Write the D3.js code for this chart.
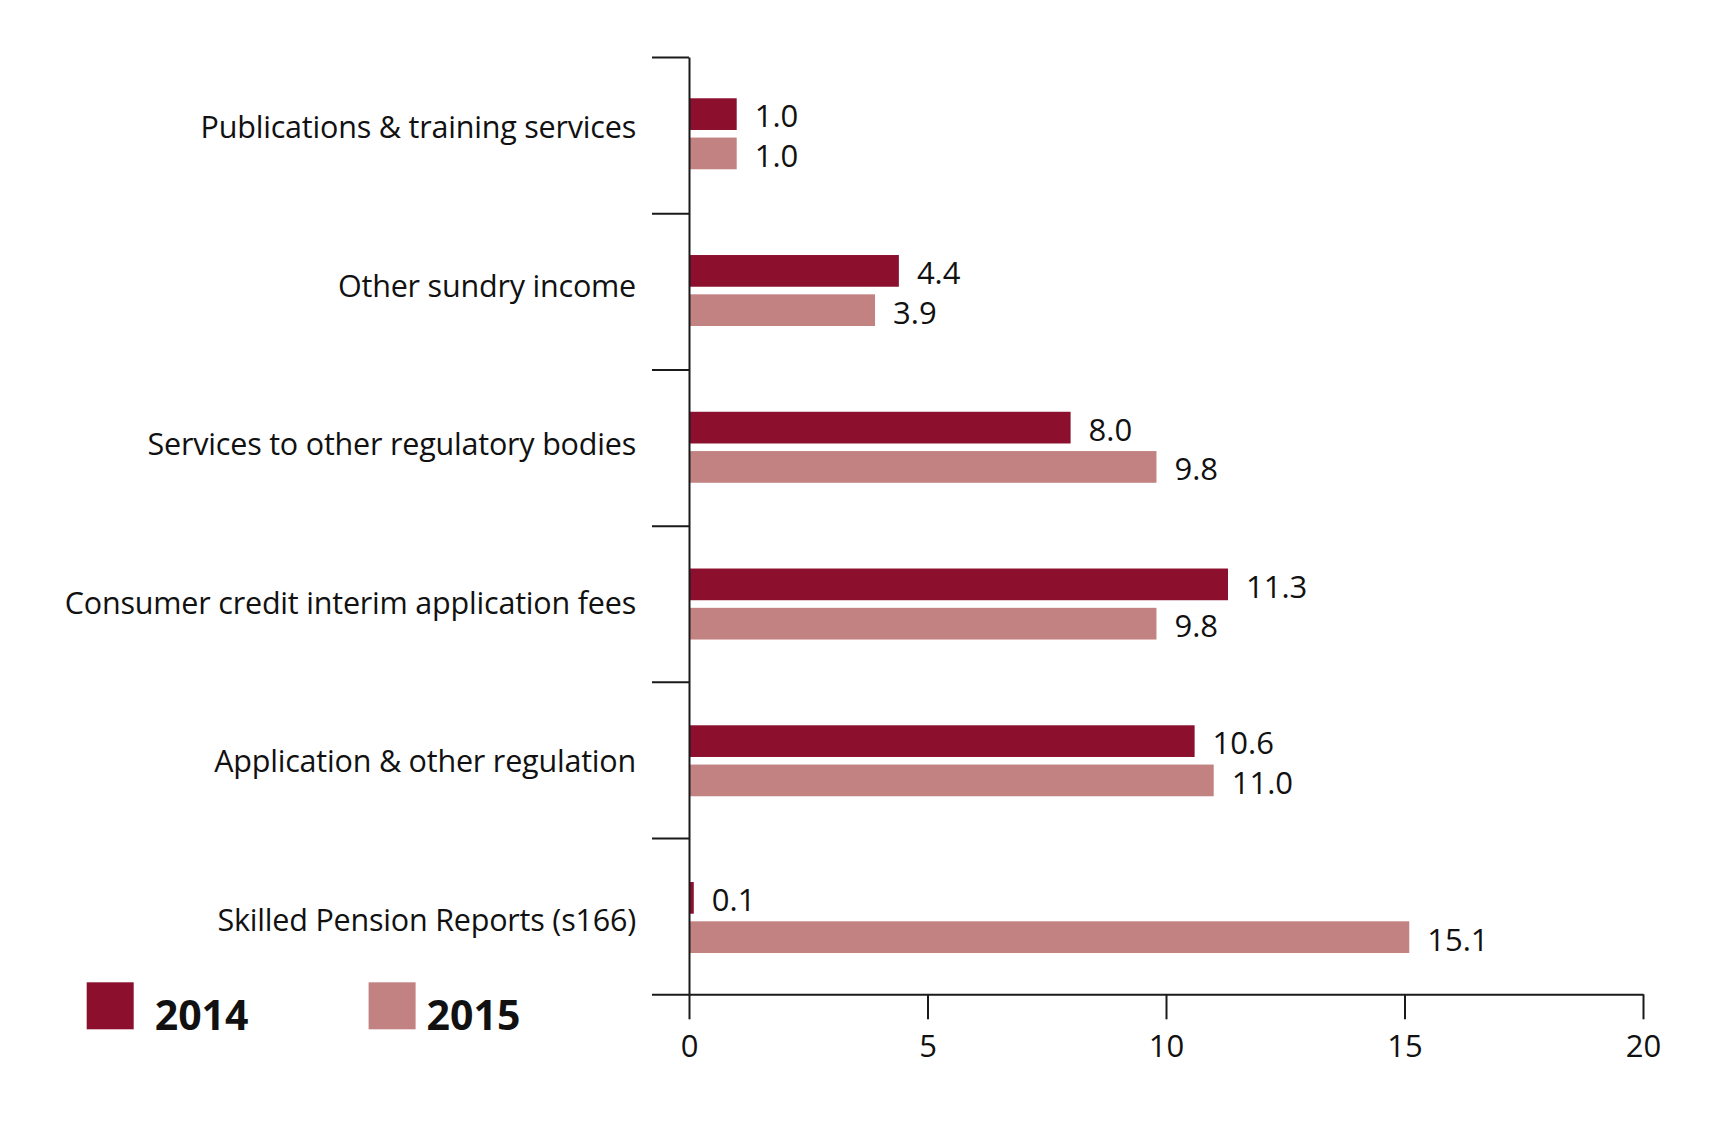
<!DOCTYPE html>
<html>
<head>
<meta charset="utf-8">
<script src="https://cdn.jsdelivr.net/npm/d3@7"></script>
<style>
  body { margin: 0; background: #fff; }
  text { font-family: "Open Sans", "Noto Sans", sans-serif; fill: #111; }
</style>
</head>
<body>
<svg id="chart" width="1719" height="1142"></svg>
<script>
// data, top to bottom
const categories = [
  "Publications & training services",
  "Other sundry income",
  "Services to other regulatory bodies",
  "Consumer credit interim application fees",
  "Application & other regulation",
  "Skilled Pension Reports (s166)"
];
const years = ["2014", "2015"];
const values2014 = [1.0, 4.4, 8.0, 11.3, 10.6, 0.1];
const values2015 = [1.0, 3.9, 9.8, 9.8, 11.0, 15.1];
const xTicks = [0, 5, 10, 15, 20];

const colors = {"2014": "#8c102e", "2015": "#c28282"};

const svg = d3.select("#chart");

const plotLeft = 689, plotRight = 1643, plotTop = 57, plotBottom = 994.3;

const x = d3.scaleLinear().domain([0, 20]).range([plotLeft, plotRight]);
// bar groups
const y0 = d3.scaleBand().domain(categories).range([55.4, 995.9]);
const groupH = 71;
const y1 = d3.scaleBand().domain(years).range([0, groupH]).paddingInner(0.193);
const groupOffset = (y0.bandwidth() - groupH) / 2;
// label baselines (spaced a bit wider than the bars in the original)
const yLabel = d3.scalePoint().domain(categories).range([138.3, 930.6]);

const rows = categories.map((c, i) => ({
  cat: c,
  bars: [
    {year: "2014", value: values2014[i]},
    {year: "2015", value: values2015[i]}
  ]
}));

// bars
const grp = svg.append("g").selectAll("g")
  .data(rows).join("g")
  .attr("transform", d => `translate(0,${y0(d.cat) + groupOffset})`);

grp.selectAll("rect")
  .data(d => d.bars).join("rect")
  .attr("x", x(0))
  .attr("y", d => y1(d.year))
  .attr("width", d => x(d.value) - x(0))
  .attr("height", y1.bandwidth())
  .attr("fill", d => colors[d.year]);

grp.selectAll("text")
  .data(d => d.bars).join("text")
  .attr("x", d => x(d.value) + 18)
  .attr("y", d => y1(d.year) + y1.bandwidth() - 2.5)
  .attr("font-size", "31px")
  .text(d => d.value.toFixed(1));

// category labels
svg.append("g").selectAll("text")
  .data(categories).join("text")
  .attr("x", 636)
  .attr("y", d => yLabel(d))
  .attr("text-anchor", "end")
  .attr("font-size", "30.5px")
  .attr("letter-spacing", "-0.2px")
  .text(d => d);

// y axis, ticks between groups
const yEdge = d3.scaleLinear().domain([0, categories.length]).range([plotTop, plotBottom]);
const yAxis = svg.append("g")
  .attr("transform", `translate(${plotLeft},0)`)
  .call(d3.axisLeft(yEdge).tickValues(d3.range(categories.length + 1))
    .tickSize(37).tickSizeOuter(0).tickFormat(""));

// x axis
const xAxis = svg.append("g")
  .attr("transform", `translate(0,${plotBottom})`)
  .call(d3.axisBottom(x).tickValues(xTicks).tickSize(25).tickSizeOuter(0).tickPadding(16));

xAxis.selectAll("text").attr("font-size", "31px").attr("font-family", null);
[yAxis, xAxis].forEach(a => {
  a.select(".domain").attr("stroke", "#1a1a1a").attr("stroke-width", 2);
  a.selectAll(".tick line").attr("stroke", "#1a1a1a").attr("stroke-width", 2);
});

// legend
const legend = svg.append("g").selectAll("g")
  .data(years).join("g")
  .attr("transform", (d, i) => `translate(${i === 0 ? 86.7 : 368.6},982.3)`);

legend.append("rect")
  .attr("width", 47).attr("height", 47)
  .attr("fill", d => colors[d]);

legend.append("text")
  .attr("x", d => d === "2014" ? 68 : 58)
  .attr("y", 47.5)
  .attr("font-size", "41px")
  .attr("font-weight", "bold")
  .text(d => d);
</script>
</body>
</html>
